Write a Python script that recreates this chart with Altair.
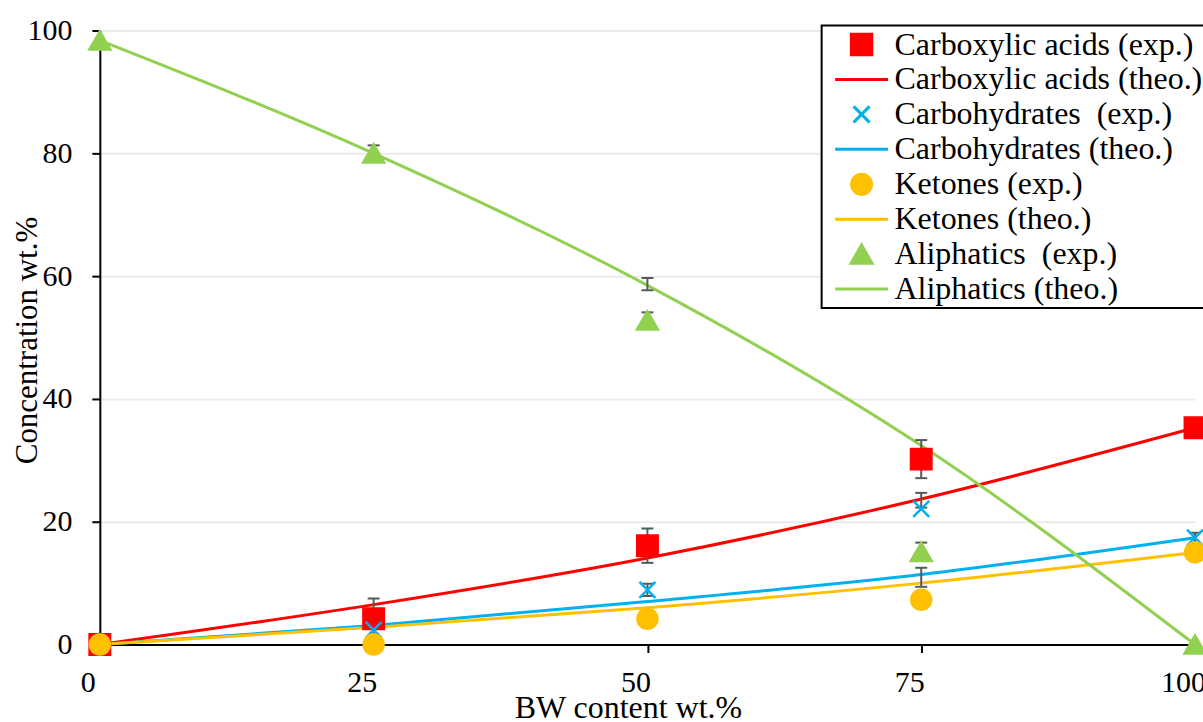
import altair as alt
import pandas as pd

# BW content (wt.%) at each blend point
bw = [0, 25, 50, 75, 100]

# Measured compositions (wt.%)
acids_exp = [0, 4.2, 16.1, 30.2, 35.3]
carbs_exp = [0, 2.4, 8.9, 22.1, 17.4]
ketones_exp = [0, 0.0, 4.2, 7.3, 15.0]
aliph_exp = [98.4, 80.0, 52.8, 15.1, 0.0]

# Theoretical compositions (wt.%)
acids_theo = [0, 6.5, 14.1, 23.7, 35.3]
carbs_theo = [0, 3.1, 7.0, 11.4, 17.4]
ketones_theo = [0, 2.8, 6.0, 10.0, 15.0]
aliph_theo = [98.4, 80.0, 58.5, 32.4, 0.0]

# Error bars: position, lower and upper ends
err_x = [25, 25, 50, 50, 50, 50, 75, 75, 75, 75, 100]
err_lo = [0.9, 78.9, 13.3, 7.9, 57.7, 51.5, 27.1, 22.3, 13.6, 9.4, 13.8]
err_hi = [7.5, 81.3, 18.9, 9.9, 59.7, 54.1, 33.3, 24.7, 16.6, 12.5, 18.2]

series = [
    "Carboxylic acids (exp.)", "Carboxylic acids (theo.)",
    "Carbohydrates\u00a0 (exp.)", "Carbohydrates (theo.)",
    "Ketones (exp.)", "Ketones (theo.)",
    "Aliphatics\u00a0 (exp.)", "Aliphatics (theo.)",
]
colors = ["#FF0000", "#FF0000", "#00B0F0", "#00B0F0",
          "#FFC000", "#FFC000", "#92D050", "#92D050"]
X_PATH = "M-1,-1L1,1M-1,1L1,-1"
shapes = ["square", "stroke", X_PATH, "stroke",
          "circle", "stroke", "triangle-up", "stroke"]
sizes = [420, 2809, 256, 2809, 400, 2809, 440, 2809]

exp_series = [series[0], series[2], series[4], series[6]]
theo_series = [series[1], series[3], series[5], series[7]]
exp_vals = [acids_exp, carbs_exp, ketones_exp, aliph_exp]
theo_vals = [acids_theo, carbs_theo, ketones_theo, aliph_theo]

exp_df = pd.DataFrame(
    [{"bw": b, "value": v, "series": s}
     for s, vals in zip(exp_series, exp_vals) for b, v in zip(bw, vals)]
)
theo_df = pd.DataFrame(
    [{"bw": b, "value": v, "series": s, "order": i}
     for i, (s, vals) in enumerate(zip(theo_series, theo_vals)) for b, v in zip(bw, vals)]
)
err_df = pd.DataFrame({"bw": err_x, "lo": err_lo, "hi": err_hi})

FONT = "Liberation Serif"
x_scale = alt.Scale(domain=[0, 100], nice=False, zero=False)
y_scale = alt.Scale(domain=[0, 100], nice=False)

x_axis = alt.Axis(
    values=bw, title="BW content wt.%", grid=False,
    domainColor="black", domainWidth=2, tickColor="black", tickWidth=2, tickSize=8,
    labelFont=FONT, labelFontSize=30, labelColor="black", labelPadding=15,
    labelOffset=-12, labelFlush=False,
    titleFont=FONT, titleFontSize=32, titleFontWeight="normal", titleColor="black",
    titleX=529, titleY=73, titleBaseline="alphabetic", titleAlign="center",
)
y_axis = alt.Axis(
    values=[0, 20, 40, 60, 80, 100], title="Concentration wt.%",
    grid=True, gridColor="#ebebeb", gridWidth=2,
    domainColor="black", domainWidth=2, tickColor="black", tickWidth=2, tickSize=8,
    labelFont=FONT, labelFontSize=30, labelColor="black", labelPadding=20,
    titleFont=FONT, titleFontSize=31, titleFontWeight="normal", titleColor="black",
    titleX=-63, titleY=310, titleBaseline="alphabetic", titleAlign="center", titleAngle=270,
)

legend = alt.Legend(
    title=None, orient="none", legendX=723, legendY=-5,
    labelFont=FONT, labelFontSize=32, labelColor="black", labelLimit=500,
    labelOffset=5, symbolOffset=9, rowPadding=3, padding=3, clipHeight=32,
    strokeColor="black", fillColor="white", symbolStrokeWidth=3,
)

lines = alt.Chart(theo_df).mark_line(interpolate="monotone", strokeWidth=3).encode(
    x=alt.X("bw:Q", scale=x_scale, axis=x_axis),
    y=alt.Y("value:Q", scale=y_scale, axis=y_axis),
    color=alt.Color("series:N", scale=alt.Scale(domain=theo_series,
                    range=[colors[1], colors[3], colors[5], colors[7]]), legend=None),
    order="order:Q",
)

err_rule = alt.Chart(err_df).mark_rule(color="#595959", strokeWidth=2).encode(
    x="bw:Q", y="lo:Q", y2="hi:Q",
)
err_cap_lo = alt.Chart(err_df).mark_tick(color="#595959", orient="horizontal",
                                        size=12, thickness=2, opacity=1).encode(
    x="bw:Q", y="lo:Q",
)
err_cap_hi = alt.Chart(err_df).mark_tick(color="#595959", orient="horizontal",
                                        size=12, thickness=2, opacity=1).encode(
    x="bw:Q", y="hi:Q",
)

points = alt.Chart(exp_df).mark_point(filled=True, opacity=1, strokeWidth=2.5).encode(
    x="bw:Q",
    y="value:Q",
    shape=alt.Shape("series:N", scale=alt.Scale(domain=series, range=shapes), legend=legend),
    fill=alt.Fill("series:N", scale=alt.Scale(domain=series, range=colors), legend=legend),
    stroke=alt.Stroke("series:N", scale=alt.Scale(domain=series, range=colors), legend=legend),
    size=alt.Size("series:N", scale=alt.Scale(type="ordinal", domain=series, range=sizes),
                  legend=legend),
)

chart = alt.layer(lines, err_rule, err_cap_lo, err_cap_hi, points).properties(
    width=1097, height=615,
    padding={"left": 100, "top": 30, "right": 8, "bottom": 77},
    autosize=alt.AutoSizeParams(type="none"),
    background="white",
).configure_view(stroke=None).configure_legend(strokeWidth=2)

chart.save("out.html", embed_options={"renderer": "svg", "actions": False})
